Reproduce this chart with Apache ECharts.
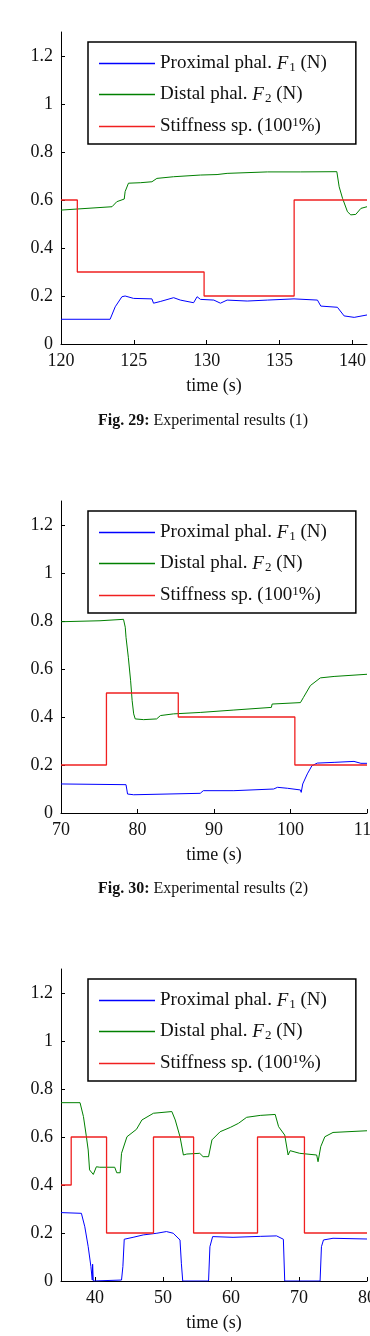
<!DOCTYPE html>
<html>
<head>
<meta charset="utf-8">
<script src="https://cdn.jsdelivr.net/npm/echarts@6/dist/echarts.min.js"></script>
<style>
  html, body { margin: 0; padding: 0; background: #fff; }
  #chart { width: 370px; height: 1336px; }
</style>
</head>
<body>
<div id="chart"></div>
<script>
// tick labels
const yTicks = [0, 0.2, 0.4, 0.6, 0.8, 1, 1.2]
const xTicks29 = [120, 125, 130, 135, 140]
const xTicks30 = [70, 80, 90, 100, 110]
const xTicks31 = [40, 50, 60, 70, 80]

const seriesNames = ['Proximal phal. F1 (N)', 'Distal phal. F2 (N)', 'Stiffness sp. (100^1%)']

// Fig. 29  [time (s), value]
const fig29Proximal = [[120, 0.103], [123.37, 0.103], [123.72, 0.155], [124.18, 0.197], [124.4, 0.2], [124.98, 0.19],
  [126.24, 0.188], [126.35, 0.17], [126.81, 0.177], [127.73, 0.193], [128.19, 0.183], [129.1, 0.172], [129.34, 0.197],
  [129.57, 0.186], [130.49, 0.183], [130.94, 0.17], [131.4, 0.183], [132.78, 0.179], [134.16, 0.183], [135.99, 0.188],
  [137.6, 0.183], [137.83, 0.158], [138.97, 0.153], [139.43, 0.117], [140.12, 0.111], [141, 0.121]]
const fig29Distal = [[120, 0.558], [123.5, 0.572], [123.83, 0.593], [124.34, 0.604], [124.4, 0.635], [124.63, 0.67],
  [125.44, 0.672], [126.24, 0.676], [126.58, 0.69], [127.73, 0.697], [129.57, 0.704], [130.71, 0.706], [131.4, 0.711],
  [134.16, 0.717], [136.45, 0.717], [138.93, 0.718], [139.09, 0.655], [139.32, 0.607], [139.66, 0.551], [139.89, 0.538],
  [140.23, 0.54], [140.58, 0.565], [141, 0.572]]
const fig29Stiffness = [[120, 0.6], [121.12, 0.3], [129.82, 0.2], [136, 0.6], [141, 0.6]]

// Fig. 30
const fig30Proximal = [[70, 0.121], [78.5, 0.118], [78.7, 0.079], [79.5, 0.076], [88.2, 0.082], [88.6, 0.093],
  [92.6, 0.093], [97.8, 0.1], [98.3, 0.107], [99.6, 0.103], [101.3, 0.096], [101.4, 0.086], [101.6, 0.121],
  [102.2, 0.163], [102.8, 0.197], [103.5, 0.208], [105.7, 0.211], [108.3, 0.215], [109.2, 0.207], [110, 0.207]]
const fig30Distal = [[70, 0.797], [75.1, 0.801], [78.17, 0.807], [78.4, 0.774], [78.5, 0.732], [78.8, 0.649],
  [79.1, 0.551], [79.3, 0.468], [79.5, 0.413], [79.7, 0.392], [80.8, 0.389], [82.5, 0.392], [83, 0.406], [84.7, 0.413],
  [88.2, 0.419], [92.6, 0.429], [97.5, 0.44], [97.6, 0.454], [101.3, 0.46], [101.7, 0.482], [102.6, 0.531],
  [103.9, 0.563], [105.7, 0.569], [110, 0.578]]
const fig30Stiffness = [[70, 0.2], [75.94, 0.5], [85.33, 0.4], [100.57, 0.2], [110, 0.2]]

// third figure
const fig31Proximal = [[35, 0.285], [38, 0.282], [38.5, 0.226], [39, 0.143], [39.4, 0.06], [39.6, 0.004], [39.65, 0.07],
  [39.75, 0], [43.9, 0.004], [44.1, 0.06], [44.3, 0.174], [45.6, 0.182], [47.1, 0.192], [49.1, 0.199], [50.5, 0.206],
  [51.5, 0.199], [52.5, 0.171], [52.7, 0.074], [52.9, 0], [56.7, 0], [56.9, 0.143], [57.3, 0.185], [60.3, 0.182],
  [64.3, 0.186], [66.7, 0.188], [67.7, 0.174], [67.9, 0], [73.1, 0], [73.3, 0.143], [73.6, 0.171], [75, 0.178], [80, 0.175]]
const fig31Distal = [[35, 0.743], [37.8, 0.743], [38.3, 0.685], [38.7, 0.608], [39, 0.546], [39.2, 0.463], [39.75, 0.444],
  [40, 0.451], [40.2, 0.476], [40.7, 0.474], [42.9, 0.474], [43.2, 0.451], [43.7, 0.451], [43.9, 0.532], [44.7, 0.601],
  [46.1, 0.632], [46.9, 0.671], [48.6, 0.699], [51.3, 0.706], [51.8, 0.671], [52.5, 0.601], [53, 0.525], [53.5, 0.529],
  [55.4, 0.532], [55.9, 0.518], [56.7, 0.518], [57.2, 0.588], [58.4, 0.622], [59.9, 0.64], [61.1, 0.657], [62.3, 0.682],
  [64.3, 0.69], [66.5, 0.694], [67, 0.643], [67.9, 0.608], [68.4, 0.525], [68.7, 0.543], [70.1, 0.532], [72.6, 0.525],
  [72.8, 0.497], [73.2, 0.56], [73.8, 0.601], [75, 0.619], [80, 0.626]]
const fig31Stiffness = [[35, 0.4], [36.5, 0.6], [41.7, 0.2], [48.6, 0.6], [54.5, 0.2], [63.9, 0.6], [70.8, 0.2], [80, 0.2]]

const font = 'Liberation Serif'
const ink = '#111'
const colors = ['#0000ff', '#008000', '#f02020']

const panels = [
  { top: 32, xMin: 120, xMax: 141, ticks: xTicks29, data: [fig29Proximal, fig29Distal, fig29Stiffness], caption: ['Fig. 29:', 'Experimental results (1)'], captionTop: 413 },
  { top: 501, xMin: 70, xMax: 110, ticks: xTicks30, data: [fig30Proximal, fig30Distal, fig30Stiffness], caption: ['Fig. 30:', 'Experimental results (2)'], captionTop: 881 },
  { top: 969, xMin: 35, xMax: 80, ticks: xTicks31, data: [fig31Proximal, fig31Distal, fig31Stiffness] }
]

const legendLabels = {
  'Proximal phal. F1 (N)': 'Proximal phal. {i|F}{sub|1} (N)',
  'Distal phal. F2 (N)': 'Distal phal. {i|F}{sub|2} (N)',
  'Stiffness sp. (100^1%)': 'Stiffness sp. (100{sup|1}%)'
}

const grid = []
const xAxis = []
const yAxis = []
const series = []
const legend = []
const title = []

panels.forEach((p, k) => {
  // no outer bounds: the last tick label is allowed to run off the page, as in the original
  grid.push({ left: 61, top: p.top, width: 306, height: 312, outerBoundsMode: 'none', containLabel: false })
  xAxis.push({
    type: 'value',
    gridIndex: k,
    min: p.xMin,
    max: p.xMax,
    name: 'time (s)',
    nameLocation: 'middle',
    nameGap: 33,
    nameTextStyle: { fontFamily: font, fontSize: 18, color: ink },
    axisLine: { lineStyle: { color: '#000', width: 1 } },
    axisTick: { inside: true, length: 4, lineStyle: { color: '#000' }, customValues: p.ticks },
    axisLabel: { fontFamily: font, fontSize: 18, color: ink, margin: 8, customValues: p.ticks, hideOverlap: false },
    splitLine: { show: false }
  })
  yAxis.push({
    type: 'value',
    gridIndex: k,
    min: 0,
    max: 1.3,
    axisLine: { show: true, lineStyle: { color: '#000', width: 1 } },
    axisTick: { show: true, inside: true, length: 4, lineStyle: { color: '#000' }, customValues: yTicks },
    axisLabel: { fontFamily: font, fontSize: 18, color: ink, margin: 8, customValues: yTicks },
    splitLine: { show: false }
  })
  p.data.forEach((d, j) => {
    series.push({
      name: seriesNames[j],
      type: 'line',
      xAxisIndex: k,
      yAxisIndex: k,
      data: d,
      step: j === 2 ? 'end' : false,
      showSymbol: false,
      color: colors[j],
      lineStyle: { width: j === 2 ? 1.3 : 1, color: colors[j] }
    })
  })
  legend.push({
    data: seriesNames,
    orient: 'vertical',
    left: 88,
    top: p.top + 10,
    icon: 'rect',
    itemWidth: 56,
    itemHeight: 1.3,
    itemGap: 11,
    padding: [12, 29, 8, 11],
    borderColor: '#000',
    borderWidth: 1.5,
    selectedMode: false,
    formatter: (name) => legendLabels[name],
    textStyle: {
      fontFamily: font,
      fontSize: 19,
      color: ink,
      rich: {
        i: { fontFamily: font, fontSize: 19, fontStyle: 'italic', color: ink },
        sub: { fontFamily: font, fontSize: 13, color: ink, padding: [8, 0, 0, 1] },
        sup: { fontFamily: font, fontSize: 13, color: ink, padding: [0, 0, 8, 0] }
      }
    }
  })
  if (p.caption) {
    title.push({
      text: '{b|' + p.caption[0] + '} ' + p.caption[1],
      left: 203,
      textAlign: 'center',
      top: p.captionTop,
      padding: 0,
      textStyle: {
        fontFamily: font,
        fontSize: 16,
        fontWeight: 'normal',
        color: ink,
        rich: { b: { fontFamily: font, fontSize: 16, fontWeight: 'bold', color: ink } }
      }
    })
  }
})

const chart = echarts.init(document.getElementById('chart'), null, { renderer: 'canvas' })
chart.setOption({
  animation: false,
  backgroundColor: '#fff',
  title,
  grid,
  xAxis,
  yAxis,
  legend,
  series
})
</script>
</body>
</html>
